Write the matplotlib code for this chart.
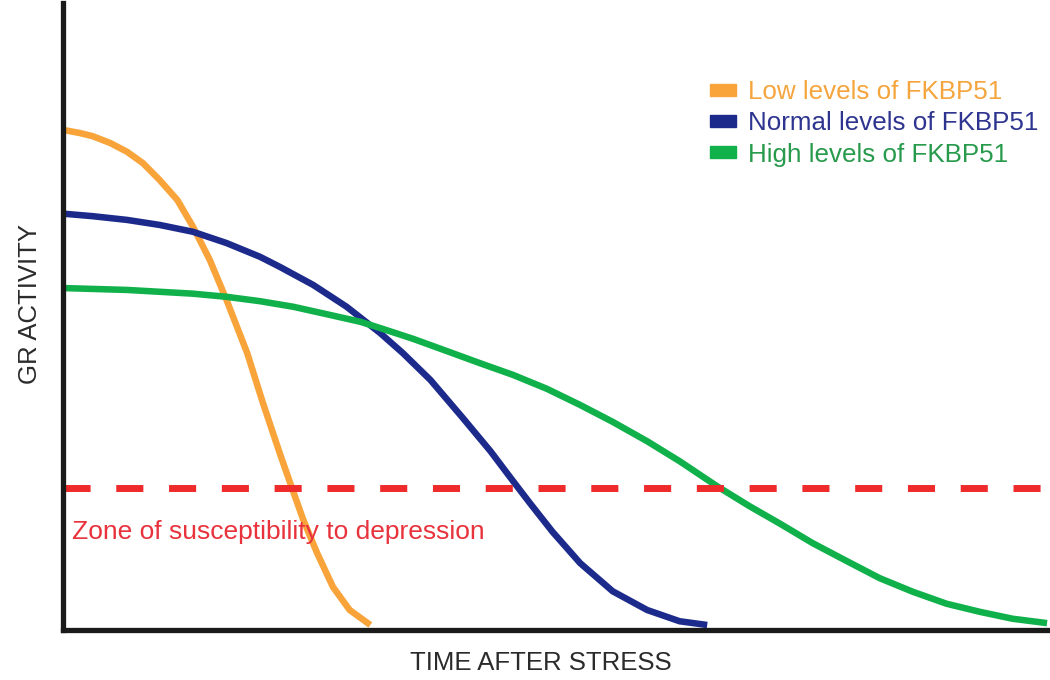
import numpy as np
import matplotlib
matplotlib.use("Agg")
import matplotlib.pyplot as plt
import matplotlib.patches as mpatches

plt.rcParams["font.family"] = ["Liberation Sans", "DejaVu Sans"]

## curves (time, GR activity) ##
time_low = [0.0, 1.7, 3.0, 4.8, 6.5, 8.1, 9.8, 11.6, 13.2, 14.9, 16.6, 18.7, 20.3, 22.0, 23.2,
            24.4, 25.8, 27.4, 29.1, 31.2]
act_low = [80.0, 79.5, 79.0, 77.9, 76.5, 74.7, 72.0, 68.8, 64.5, 59.2, 52.8, 44.3, 36.3, 28.3, 22.9,
           17.6, 12.3, 6.9, 3.2, 0.8]

time_normal = [0.0, 3.0, 6.5, 9.8, 13.2, 16.6, 20.0, 22.0, 25.4, 28.8, 32.2, 34.5, 37.3, 40.6, 43.4,
               45.7, 47.4, 49.7, 52.5, 55.8, 59.3, 62.6, 65.4]
act_normal = [66.6, 66.2, 65.6, 64.8, 63.7, 61.9, 59.7, 58.1, 55.2, 51.7, 47.5, 44.3, 40.0, 33.9, 28.6,
              23.8, 20.3, 15.7, 10.7, 6.2, 3.2, 1.4, 0.8]

time_high = [0.0, 6.5, 13.2, 16.6, 20.0, 23.4, 27.1, 30.2, 32.2, 35.5, 39.0, 42.3, 45.7, 49.1, 52.5,
             55.8, 59.3, 62.6, 66.4, 69.7, 72.8, 76.1, 79.6, 82.9, 86.3, 89.7, 93.1, 96.4, 99.9]
act_high = [54.7, 54.4, 53.8, 53.3, 52.6, 51.7, 50.4, 49.3, 48.3, 46.6, 44.6, 42.7, 40.8, 38.6, 36.0,
            33.3, 30.2, 27.0, 23.0, 19.8, 17.0, 13.9, 11.0, 8.3, 6.1, 4.2, 2.9, 1.8, 1.1]

threshold = 22.7

labels = ["Low levels of FKBP51", "Normal levels of FKBP51", "High levels of FKBP51"]
line_colors = ["#f8a43a", "#1c2a8c", "#10b04a"]
text_colors = ["#f5a53d", "#2e3590", "#279a4c"]

W, H = 1050, 680
fig = plt.figure(figsize=(W / 100, H / 100), dpi=100)
ax = fig.add_axes([63 / W, 50 / H, 987 / W, 627 / H])

lw = 4.7
for t, a, c in zip([time_low, time_normal, time_high], [act_low, act_normal, act_high], line_colors):
    ax.plot(t, a, color=c, lw=lw, solid_capstyle="butt", solid_joinstyle="round")

ax.axhline(threshold, xmin=0, xmax=0.995, color="#ee2a2a", lw=5, linestyle=(0, (3.9, 3.7)))
ax.text(0.9, 15.7, "Zone of susceptibility to depression", color="#e8323c",
        fontsize=19, ha="left", va="center")

ax.set_xlim(0, 100.2)
ax.set_ylim(0, 100.3)
ax.set_xticks([])
ax.set_yticks([])
for s in ["top", "right"]:
    ax.spines[s].set_visible(False)
for s in ["left", "bottom"]:
    ax.spines[s].set_linewidth(3.8)
    ax.spines[s].set_color("#1a1a1a")

ax.set_xlabel("TIME AFTER STRESS", fontsize=18.5, color="#2b2b2b")
ax.xaxis.set_label_coords(0.484, -0.033)
ax.set_ylabel("GR ACTIVITY", fontsize=18.5, color="#2b2b2b")
ax.yaxis.set_label_coords(-0.021, 0.52)

handles = [mpatches.Patch(color=c, label=l) for c, l in zip(line_colors, labels)]
leg = ax.legend(handles=handles, loc="upper left", bbox_to_anchor=(710 / W, 1 - 80 / H),
                bbox_transform=fig.transFigure, frameon=False, borderpad=0,
                handlelength=1.0, handleheight=0.32, handletextpad=0.45,
                labelspacing=0.28, fontsize=18.7, borderaxespad=0)
for t, c in zip(leg.get_texts(), text_colors):
    t.set_color(c)

fig.savefig("out.png", dpi=100)
